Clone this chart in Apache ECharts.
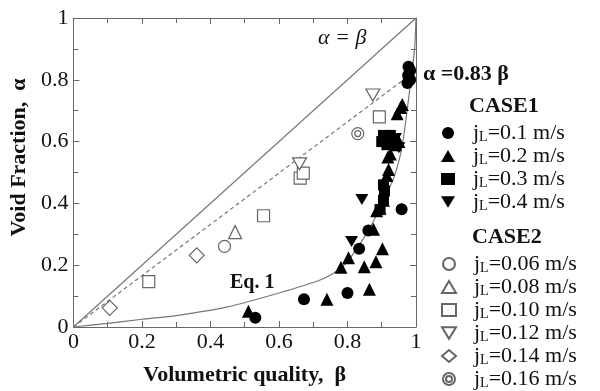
<!DOCTYPE html>
<html>
<head>
<meta charset="utf-8">
<script src="https://cdn.jsdelivr.net/npm/echarts@6/dist/echarts.min.js"></script>
<style>html,body{margin:0;padding:0;background:#fff}#c{width:600px;height:391px}</style>
</head>
<body>
<div id="c"></div>
<script>
// ---- data ----
const xTicks = [0, 0.2, 0.4, 0.6, 0.8, 1];
const lineEqual = [[0, 0], [1, 1]];
const lineDrift = [[0, 0], [1, 0.83]];
const eq1Curve = [[0,0],[0.1,0.012],[0.2,0.025],[0.3,0.037],[0.45,0.065],[0.6,0.11],[0.72,0.152],[0.77,0.182],[0.8,0.212],[0.837,0.27],[0.87,0.33],[0.895,0.387],[0.934,0.48],[0.955,0.56],[0.967,0.64],[0.983,0.78],[0.996,0.9],[1,1]];

const case1_j01 = [[0.531,0.03],[0.673,0.09],[0.800,0.11],[0.834,0.253],[0.861,0.312],[0.958,0.381],[0.975,0.79],[0.983,0.80],[0.977,0.815],[0.983,0.83],[0.978,0.842]];
const case1_j02 = [[0.511,0.051],[0.740,0.09],[0.864,0.122],[0.781,0.193],[0.849,0.195],[0.883,0.211],[0.803,0.224],[0.902,0.253],[0.876,0.316],[0.885,0.376],[0.895,0.385],[0.905,0.41],[0.915,0.49],[0.92,0.51],[0.918,0.55],[0.925,0.56],[0.94,0.59],[0.95,0.60],[0.945,0.69],[0.955,0.71],[0.96,0.72]];
const case1_j03 = [[0.895,0.38],[0.905,0.41],[0.908,0.44],[0.905,0.46],[0.90,0.60],[0.905,0.62],[0.915,0.59],[0.925,0.62],[0.935,0.60]];
const case1_j04 = [[0.812,0.277],[0.842,0.413],[0.94,0.61],[0.95,0.58]];

const case2_j006 = [[0.441,0.261]];
const case2_j008 = [[0.472,0.307]];
const case2_j010 = [[0.22,0.147],[0.555,0.36],[0.662,0.482],[0.671,0.498],[0.893,0.68]];
const case2_j012 = [[0.66,0.528],[0.874,0.751]];
const case2_j014 = [[0.106,0.062],[0.36,0.232]];
const case2_j016 = [[0.83,0.626]];

const case1Names = ['jL=0.1 m/s','jL=0.2 m/s','jL=0.3 m/s','jL=0.4 m/s'];
const case2Names = ['jL=0.06 m/s','jL=0.08 m/s','jL=0.10 m/s','jL=0.12 m/s','jL=0.14 m/s','jL=0.16 m/s'];

// ---- chart ----
const FONT = '"Liberation Serif", "Times New Roman", serif';
const GRAY = '#777';
const triDown = 'path://M0,0L12,0L6,10Z';
const dblCircle = 'path://M0,10A10,10,0,1,1,20,10A10,10,0,1,1,0,10ZM5,10A5,5,0,1,1,15,10A5,5,0,1,1,5,10Z';

function filled(name, data, symbol, size) {
  return {type:'scatter', name, data, symbol, symbolSize:size, z:5,
    itemStyle:{color:'#000', opacity:1}};
}
function open(name, data, symbol, size) {
  return {type:'scatter', name, data, symbol, symbolSize:size, z:4,
    itemStyle:{color:'#fff', borderColor:'#666', borderWidth:1.2, opacity:1}};
}

const legendRich = {
  j:{fontFamily:FONT, fontSize:22, color:'#111', lineHeight:20, padding:[0,0,0,13]},
  a:{fontFamily:FONT, fontSize:22, color:'#111', lineHeight:20},
  s:{fontFamily:FONT, fontSize:14, color:'#111', lineHeight:14, padding:[8,0,0,0]}
};
function legendFmt(n){ return '{j|j}{s|L}{a|' + n.slice(2) + '}'; }

const axisCommon = {
  type:'value', min:0, max:1, interval:0.2,
  axisLine:{show:true, onZero:false, lineStyle:{color:'#666', width:1}},
  axisTick:{show:true, inside:true, length:6, lineStyle:{color:'#666'}},
  minorTick:{show:true, splitNumber:2, length:5, lineStyle:{color:'#666'}},
  splitLine:{show:false}
};

const chart = echarts.init(document.getElementById('c'), null, {renderer:'canvas'});
chart.setOption({
  backgroundColor:'#fff',
  animation:false,
  grid:{left:73, right:184, top:18, bottom:60},
  xAxis:[
    Object.assign({}, axisCommon, {position:'bottom',
      name:'Volumetric quality,  β', nameLocation:'middle', nameGap:37,
      nameTextStyle:{fontFamily:FONT, fontSize:22, fontWeight:'bold', color:'#111'},
      axisLabel:{fontFamily:FONT, fontSize:22, color:'#111', margin:4,
        formatter:v => xTicks.indexOf(+v.toFixed(1)) >= 0 ? String(+v.toFixed(1)) : ''}}),
    Object.assign({}, axisCommon, {position:'top', axisLabel:{show:false}})
  ],
  yAxis:[
    Object.assign({}, axisCommon, {position:'left',
      name:'Void Fraction,  α', nameLocation:'middle', nameGap:26,
      nameTextStyle:{fontFamily:FONT, fontSize:22, fontWeight:'bold', color:'#111', padding:[0,0,0,30]},
      axisLabel:{fontFamily:FONT, fontSize:22, color:'#111', margin:5,
        formatter:v => String(+v.toFixed(1))}}),
    Object.assign({}, axisCommon, {position:'right', axisLabel:{show:false}})
  ],
  legend:[
    {data:case1Names, orient:'vertical', left:441, top:122, padding:0, itemWidth:14, itemHeight:12, itemGap:1,
     formatter:legendFmt, textStyle:{rich:legendRich}},
    {data:case2Names, orient:'vertical', left:441, top:253, padding:0, itemWidth:14, itemHeight:12, itemGap:1,
     formatter:legendFmt, textStyle:{rich:legendRich}}
  ],
  graphic:[
    {type:'text', left:318, top:27, style:{text:'α = β', font:'italic 22px ' + FONT, fill:'#111'}},
    {type:'text', left:423, top:63, style:{text:'α =0.83 β', font:'bold 22px ' + FONT, fill:'#111'}},
    {type:'text', left:469, top:95, style:{text:'CASE1', font:'bold 22px ' + FONT, fill:'#111'}},
    {type:'text', left:472, top:226, style:{text:'CASE2', font:'bold 22px ' + FONT, fill:'#111'}},
    {type:'text', left:230, top:273, style:{text:'Eq. 1', font:'bold 20px ' + FONT, fill:'#111'}}
  ],
  series:[
    {type:'line', name:'alpha=beta', data:lineEqual, showSymbol:false, silent:true, z:2,
     lineStyle:{color:GRAY, width:1.2}},
    {type:'line', name:'alpha=0.83beta', data:lineDrift, showSymbol:false, silent:true, z:2,
     lineStyle:{color:GRAY, width:1.2, type:[4,3]}},
    {type:'line', name:'Eq1', data:eq1Curve, showSymbol:false, silent:true, z:2, smooth:0.2,
     lineStyle:{color:GRAY, width:1.2}},
    filled(case1Names[0], case1_j01, 'circle', 12),
    filled(case1Names[1], case1_j02, 'triangle', 13),
    filled(case1Names[2], case1_j03, 'rect', 11),
    filled(case1Names[3], case1_j04, triDown, [13,11]),
    open(case2Names[0], case2_j006, 'circle', 12),
    open(case2Names[1], case2_j008, 'triangle', 13),
    open(case2Names[2], case2_j010, 'rect', 12),
    open(case2Names[3], case2_j012, triDown, [14,12]),
    open(case2Names[4], case2_j014, 'diamond', 15),
    open(case2Names[5], case2_j016, dblCircle, 12)
  ]
});
</script>
</body>
</html>
